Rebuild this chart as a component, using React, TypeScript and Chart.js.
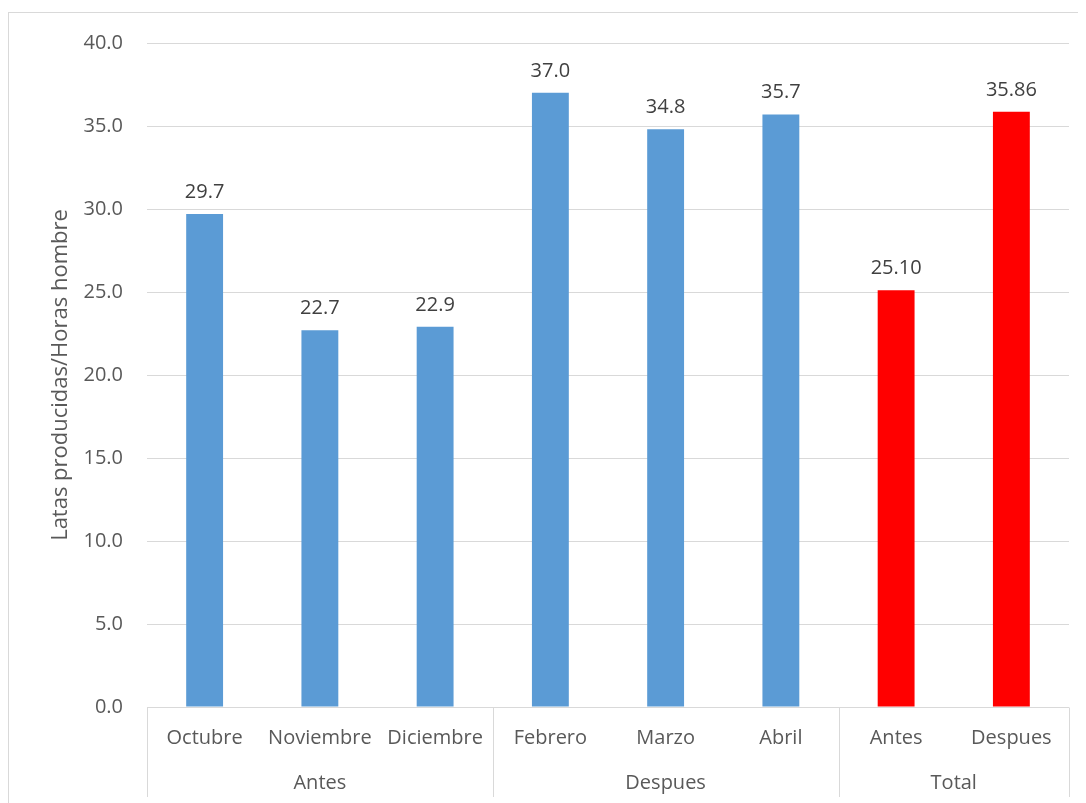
import { useEffect, useRef } from 'react';
import { Chart, registerables } from 'chart.js';

Chart.register(...registerables);

// Productividad mensual (latas producidas por hora hombre) y promedios
const categories = ['Octubre', 'Noviembre', 'Diciembre', 'Febrero', 'Marzo', 'Abril', 'Antes', 'Despues'];
const productivity = [29.7, 22.7, 22.9, 37.0, 34.8, 35.7, 25.1, 35.86];
const valueDecimals = [1, 1, 1, 1, 1, 1, 2, 2];
const groupNames = ['Antes', 'Despues', 'Total'];
const groupSizes = [3, 3, 2];
const yMin = 0;
const yMax = 40;
const yStep = 5;
const yTitle = 'Latas producidas/Horas hombre';

const FONT = '"Open Sans", sans-serif';
const TEXT = '#595959';
const LABEL = '#404040';
const LINE = '#D9D9D9';
const MONTH_COLOR = '#5B9BD5';
const TOTAL_COLOR = '#FF0000';

const CANVAS_W = 1076;
const CANVAS_H = 791;
const X_AXIS_H = 97;

// colour per bar: the last group (totals) is red
const barColors = (() => {
  const out: string[] = [];
  groupSizes.forEach((n, gi) => {
    for (let i = 0; i < n; i++) out.push(gi === groupSizes.length - 1 ? TOTAL_COLOR : MONTH_COLOR);
  });
  return out;
})();

// value labels above the bars
const valueLabelPlugin = {
  id: 'valueLabels',
  afterDatasetsDraw(chart: any) {
    const ctx = chart.ctx;
    const meta = chart.getDatasetMeta(0);
    ctx.save();
    ctx.font = `20px ${FONT}`;
    ctx.fillStyle = LABEL;
    ctx.textAlign = 'center';
    ctx.textBaseline = 'alphabetic';
    meta.data.forEach((bar: any, i: number) => {
      const txt = productivity[i].toFixed(valueDecimals[i]);
      ctx.fillText(txt, bar.x, bar.y - 16);
    });
    ctx.restore();
  },
};

// multi-level category axis: baseline, group separators and group names
const groupAxisPlugin = {
  id: 'groupAxis',
  afterDraw(chart: any) {
    const ctx = chart.ctx;
    const area = chart.chartArea;
    const n = categories.length;
    const step = (area.right - area.left) / n;
    const yAxis = Math.round(area.bottom) + 0.5;
    const yEnd = CANVAS_H - 7;
    ctx.save();
    ctx.strokeStyle = LINE;
    ctx.lineWidth = 1;
    ctx.beginPath();
    ctx.moveTo(area.left, yAxis);
    ctx.lineTo(area.right, yAxis);
    let idx = 0;
    const bounds = [0];
    groupSizes.forEach((s) => {
      idx += s;
      bounds.push(idx);
    });
    bounds.forEach((b) => {
      const px = Math.round(area.left + b * step) + 0.5;
      ctx.moveTo(px, yAxis);
      ctx.lineTo(px, yEnd);
    });
    ctx.stroke();

    ctx.font = `20px ${FONT}`;
    ctx.fillStyle = TEXT;
    ctx.textAlign = 'center';
    ctx.textBaseline = 'middle';
    groupNames.forEach((g, gi) => {
      const cx = area.left + ((bounds[gi] + bounds[gi + 1]) / 2) * step;
      ctx.fillText(g, cx, area.bottom + 76);
    });
    ctx.restore();
  },
};

export default function App() {
  const canvasRef = useRef<HTMLCanvasElement | null>(null);

  useEffect(() => {
    const canvas = canvasRef.current;
    if (!canvas) return;
    const chart = new Chart(canvas, {
      type: 'bar',
      data: {
        labels: categories,
        datasets: [
          {
            data: productivity,
            backgroundColor: barColors,
            borderWidth: 0,
            categoryPercentage: 1,
            barPercentage: 0.32,
          },
        ],
      },
      options: {
        responsive: false,
        maintainAspectRatio: false,
        animation: false,
        layout: { padding: { top: 30, right: 16, left: 0, bottom: 0 } },
        plugins: {
          legend: { display: false },
          tooltip: { enabled: false },
        },
        scales: {
          x: {
            type: 'category',
            grid: { display: false },
            border: { display: false },
            ticks: {
              font: { family: FONT, size: 20 },
              color: TEXT,
              padding: 11,
              maxRotation: 0,
              autoSkip: false,
            },
            afterFit: (s: any) => {
              s.height = X_AXIS_H;
              s.paddingLeft = 0;
              s.paddingRight = 0;
            },
          },
          y: {
            min: yMin,
            max: yMax,
            ticks: {
              stepSize: yStep,
              font: { family: FONT, size: 20 },
              color: TEXT,
              padding: 24,
              callback: (v: any) => Number(v).toFixed(1),
            },
            grid: { color: LINE, lineWidth: 1, drawTicks: false },
            border: { display: false },
            title: {
              display: true,
              text: yTitle,
              font: { family: FONT, size: 22 },
              color: TEXT,
              padding: { top: 39, bottom: 0 },
            },
            afterFit: (s: any) => {
              s.width = 138;
              s.paddingTop = 0;
              s.paddingBottom = 0;
            },
          },
        },
      },
      plugins: [valueLabelPlugin, groupAxisPlugin],
    });
    return () => chart.destroy();
  }, []);

  return (
    <div
      style={{
        width: CANVAS_W + 2,
        height: CANVAS_H + 2,
        marginTop: 4,
        border: `1px solid ${LINE}`,
        boxSizing: 'border-box',
        background: '#fff',
      }}
    >
      <canvas
        ref={canvasRef}
        width={CANVAS_W}
        height={CANVAS_H}
        style={{ display: 'block', width: CANVAS_W, height: CANVAS_H }}
      />
    </div>
  );
}
